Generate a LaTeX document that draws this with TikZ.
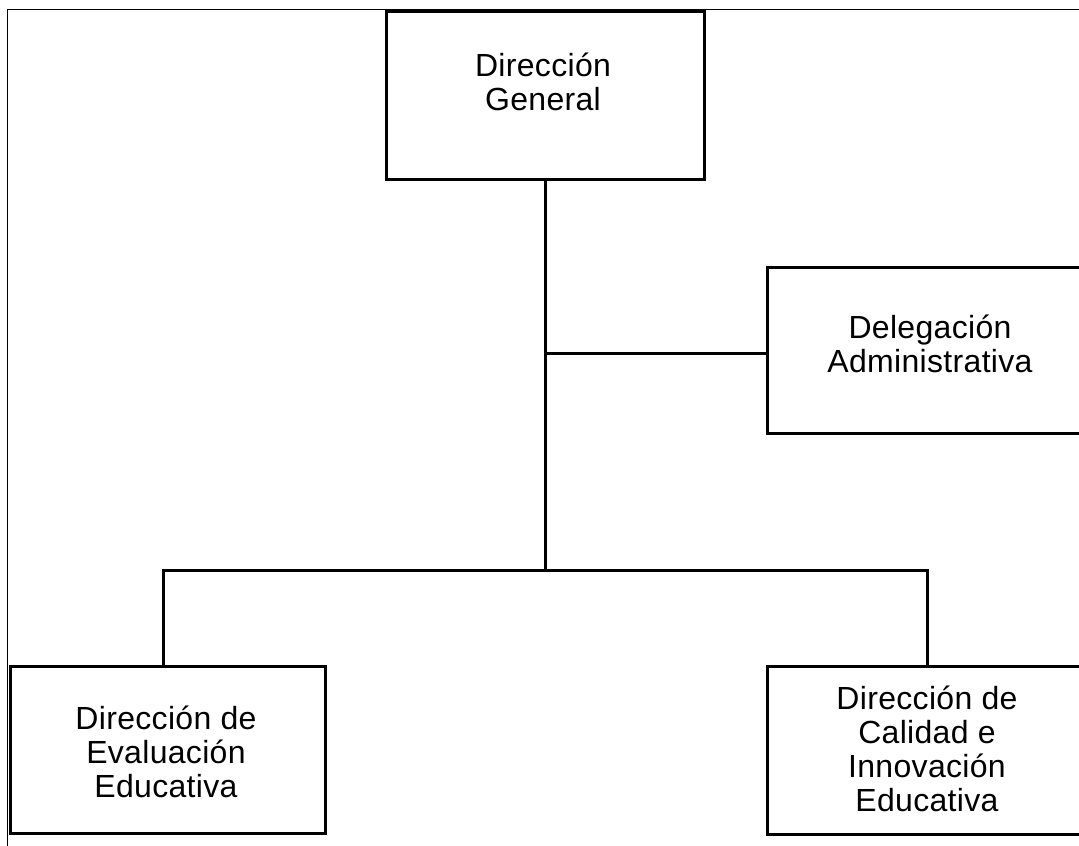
\documentclass[tikz,border=0pt]{standalone}
\usepackage{fontspec}
\setmainfont{Liberation Sans}[LetterSpace=1]
\begin{document}
\begin{tikzpicture}[x=0.75pt,y=-0.75pt,
  box/.style={draw=black,line width=2.25pt,fill=white,inner sep=0pt},
  lbl/.style={align=center,font=\fontsize{24}{25.5}\selectfont,inner sep=0pt},
  conn/.style={draw=black,line width=2.25pt},
  frameline/.style={draw=black,line width=0.75pt}]
\useasboundingbox (0,0) rectangle (1079,846);
\clip (0,0) rectangle (1079,846);
\fill[white] (0,0) rectangle (1079,846);
% partial page frame
\coordinate (fa) at (7,846);
\coordinate (fb) at (7,9);
\coordinate (fc) at (1079,9);
\draw[frameline] (fa) -- (fb) -- (fc);
% boxes
\node[box,minimum width=238.5pt,minimum height=126pt] (dg) at (545,95) {};
\node[box,minimum width=246pt,minimum height=124.5pt] (da) at (931,350) {};
\node[box,minimum width=236.25pt,minimum height=125.25pt] (de) at (167.5,749.5) {};
\node[box,minimum width=246pt,minimum height=126pt] (dc) at (931,750) {};
% labels
\node[lbl] (tdg) at (543,82) {Dirección\\General};
\node[lbl] (tda) at (930,344) {Delegación\\Administrativa};
\node[lbl] (tde) at (166,752) {Dirección de\\Evaluación\\Educativa};
\node[lbl] (tdc) at (927,749) {Dirección de\\Calidad e\\Innovación\\Educativa};
% connectors
\coordinate (jd) at (545,353);
\coordinate (jc) at (545,570);
\coordinate (jl) at (163,570);
\coordinate (jr) at (927,570);
\draw[conn] (dg.south) -- (jc);
\draw[conn] (jd) -- (jd -| da.west);
\draw[conn,line cap=rect] (jl) -- (jr);
\draw[conn] (jl) -- (jl |- de.north);
\draw[conn] (jr) -- (jr |- dc.north);
\end{tikzpicture}
\end{document}
